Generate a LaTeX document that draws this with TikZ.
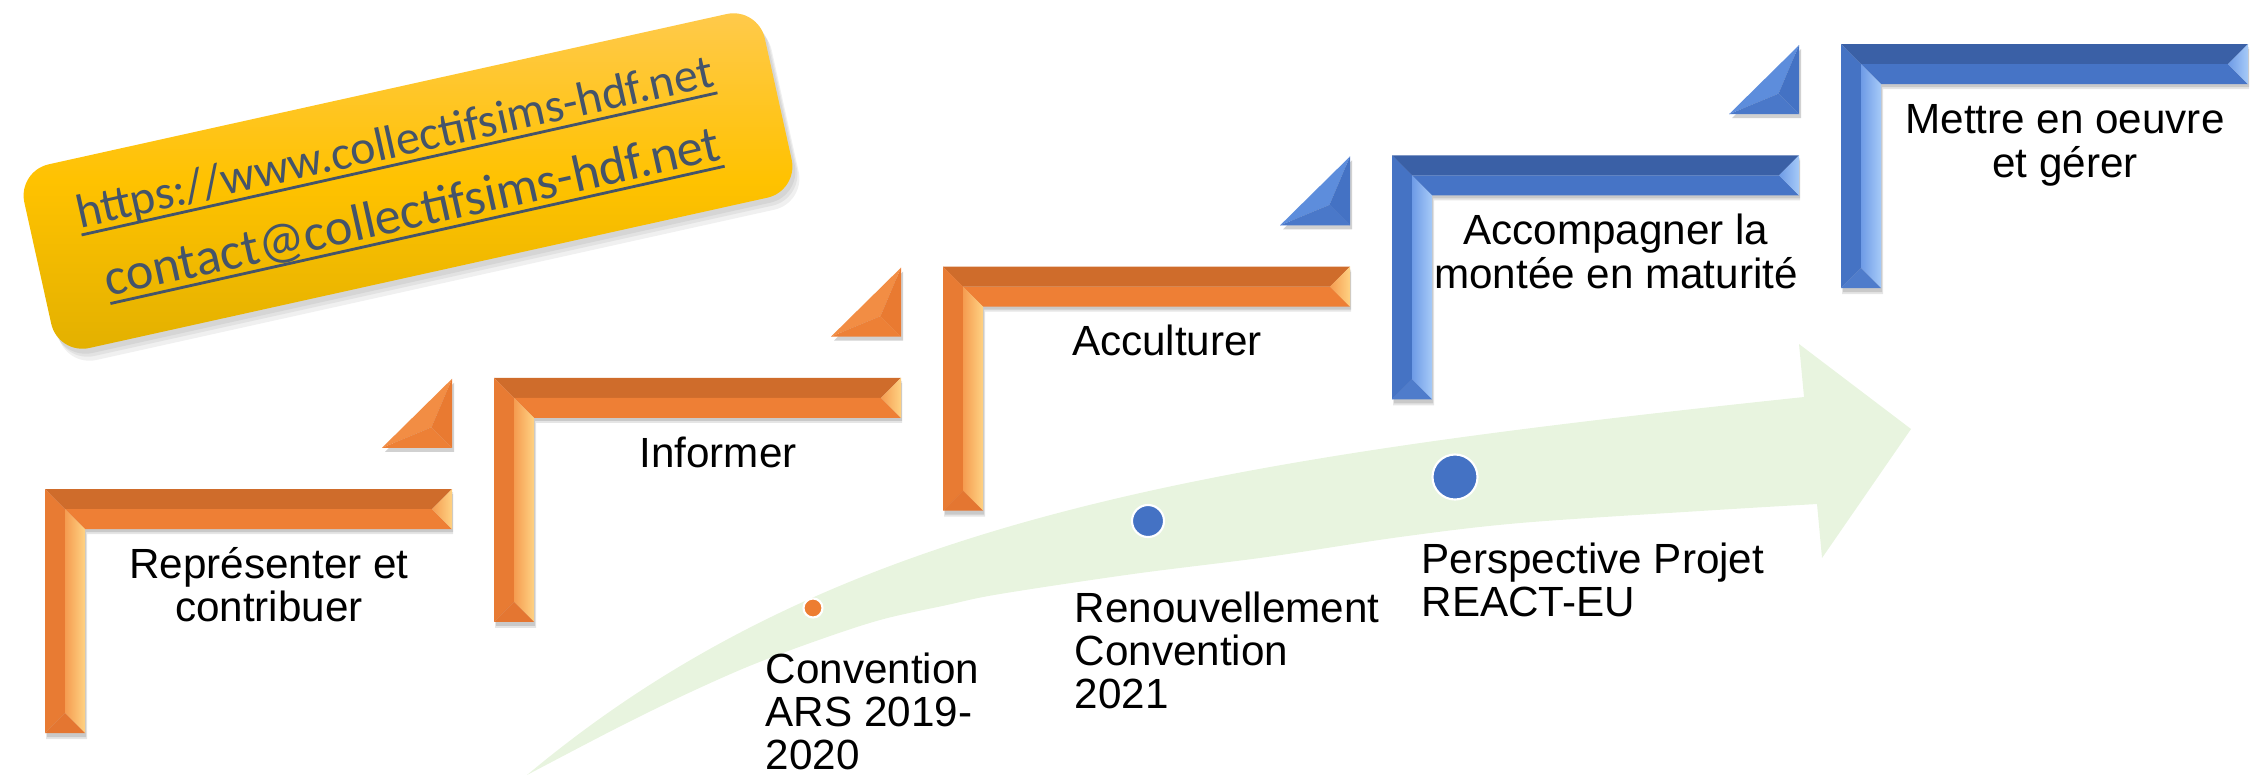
\documentclass[tikz,border=0pt]{standalone}
\usepackage{fontspec}
\setmainfont{Liberation Sans}
\newfontfamily\calib{Carlito}
\newsavebox\ulinkbox
\newcommand{\ulink}[1]{\sbox\ulinkbox{#1}\rlap{\rule[-2.4pt]{\wd\ulinkbox}{0.8pt}}\usebox\ulinkbox}
\newcommand{\linestack}[2]{\begin{tabular}[t]{@{}#1@{}}#2\end{tabular}}
% orange palette
\definecolor{otop}{HTML}{CF6C2B}
\definecolor{omid}{HTML}{EE7F35}
\definecolor{oside}{HTML}{E87B33}
\definecolor{obot}{HTML}{E47631}
\definecolor{ola}{HTML}{F59C50}
\definecolor{olb}{HTML}{FFD283}
\definecolor{ohyp}{HTML}{F28D44}
\definecolor{oright}{HTML}{E97A31}
\definecolor{otbot}{HTML}{ED8036}
% blue palette
\definecolor{btop}{HTML}{3A60A6}
\definecolor{bmid}{HTML}{4674C6}
\definecolor{bside}{HTML}{4573C4}
\definecolor{bbot}{HTML}{4F7CCB}
\definecolor{bla}{HTML}{6E9BE6}
\definecolor{blb}{HTML}{A6CAF8}
\definecolor{bhyp}{HTML}{5D8DDC}
\definecolor{bright}{HTML}{4472C4}
\definecolor{btbot}{HTML}{4A78C9}
% others
\definecolor{arrowgreen}{HTML}{E8F4DF}
\definecolor{dotorange}{HTML}{ED7D31}
\definecolor{dotblue}{HTML}{4472C4}
\definecolor{linkblue}{HTML}{44546A}
\definecolor{goldtop}{HTML}{FFCA4E}
\definecolor{goldmid}{HTML}{FFC200}
\definecolor{goldbot}{HTML}{E2B000}

\newcommand{\bevelL}[3]{%
 \begin{scope}[shift={(#1,#2)}]
  \fill[black, opacity=0.10] (1,3) -- (408,3) -- (408,45) -- (42,45) -- (42,250) -- (1,250) -- cycle;
  \fill[black, opacity=0.12] (2,5) -- (408,5) -- (408,43) -- (41,43) -- (41,248) -- (2,248) -- cycle;
  \fill[#3top] (0,0) -- (407,0) -- (387,20) -- (20,20) -- cycle;
  \fill[#3mid] (20,20) -- (387,20) -- (407,40) -- (40,40) -- cycle;
  \shade[left color=#3la, right color=#3lb] (387,20) -- (407,0) -- (407,40) -- cycle;
  \fill[#3side] (0,0) -- (20,20) -- (20,224) -- (0,244) -- cycle;
  \shade[left color=#3la, right color=#3lb] (20,20) -- (40,40) -- (40,244) -- (20,224) -- cycle;
  \fill[#3bot] (0,244) -- (20,224) -- (40,244) -- cycle;
 \end{scope}}

\newcommand{\bevelT}[3]{%
 \begin{scope}[shift={(#1,#2)}]
  \fill[black, opacity=0.18] (-67,73) -- (2,73) -- (2,4) -- cycle;
  \fill[#3hyp] (-70,69) -- (0,0) -- (-20.5,48.5) -- cycle;
  \fill[#3right] (0,0) -- (0,69) -- (-20.5,48.5) -- cycle;
  \fill[#3tbot] (-70,69) -- (0,69) -- (-20.5,48.5) -- cycle;
 \end{scope}}

\tikzset{
 steplabel/.style={anchor=base, inner sep=0pt, font=\fontsize{12}{12.3}\selectfont},
 milestone/.style={anchor=base west, inner sep=0pt, font=\fontsize{12}{12.3}\selectfont},
 dotmark/.style={circle, draw=white, line width=0.6pt, inner sep=0pt},
 goldbox/.style={rotate=12.5, minimum width=7.58cm, minimum height=1.88cm, rounded corners=0.32cm, inner sep=0pt},
 linktext/.style={rotate=12.6, anchor=base, inner sep=0pt, text=linkblue}
}

\begin{document}
\begin{tikzpicture}[x=0.01cm, y=-0.01cm]
\useasboundingbox (0,0) rectangle (2267,775);

% green curved arrow
\fill[arrowgreen] (527,775) .. controls (834,518) and (1208,460) .. (1804,397)
  -- (1799,344) -- (1911,429) -- (1822,558) -- (1817,504)
  -- plot[smooth, tension=0.55] coordinates {(1817,504) (1700,511) (1520,523) (1400,537) (1267,557) (1133,574) (1000,594) (947,605) (880,620) (813,642) (747,667) (680,697) (613,730) (527,775)} -- cycle;

% gold box with shadow
\node[goldbox, fill=black, opacity=0.06] at (413,189) {};
\node[goldbox, fill=black, opacity=0.06] at (415,193) {};
\node[goldbox, fill=black, opacity=0.06] at (411,186) {};
\node[goldbox, top color=goldtop, bottom color=goldbot, middle color=goldmid] (contact) at (408,181) {};
\node[linktext, font=\calib\fontsize{13.6}{14}\selectfont] (url) at (398,157) {\ulink{https://www.collectifsims-hdf.net}};
\node[linktext, font=\calib\fontsize{14.8}{15}\selectfont] (mail) at (416,228) {\ulink{contact@collectifsims-hdf.net}};

% steps
\bevelL{45}{489}{o}
\bevelL{494}{377.8}{o}
\bevelL{943}{266.6}{o}
\bevelL{1392}{155.4}{b}
\bevelL{1841}{44.2}{b}

\bevelT{452}{378.8}{o}
\bevelT{901}{267.6}{o}
\bevelT{1350}{156.4}{b}
\bevelT{1799}{45.2}{b}

\node[steplabel] (s1) at (269,578) {\linestack{c}{Représenter et\\contribuer}};
\node[steplabel] (s2) at (718,467) {Informer};
\node[steplabel] (s3) at (1167,355.5) {Acculturer};
\node[steplabel] (s4) at (1616,244) {\linestack{c}{Accompagner la\\montée en maturité}};
\node[steplabel] (s5) at (2065,133) {\linestack{c}{Mettre en oeuvre\\et gérer}};

% milestones
\node[dotmark, fill=dotorange, minimum size=0.19cm] (d1) at (813,608) {};
\node[dotmark, fill=dotblue, minimum size=0.32cm] (d2) at (1148,521) {};
\node[dotmark, fill=dotblue, minimum size=0.45cm] (d3) at (1455,477) {};

\node[milestone] (m1) at (765,683) {\linestack{l}{Convention\\ARS 2019-\\2020}};
\node[milestone] (m2) at (1074,622) {\linestack{l}{Renouvellement\\Convention\\2021}};
\node[milestone] (m3) at (1421,573) {\linestack{l}{Perspective Projet\\REACT-EU}};
\end{tikzpicture}
\end{document}
